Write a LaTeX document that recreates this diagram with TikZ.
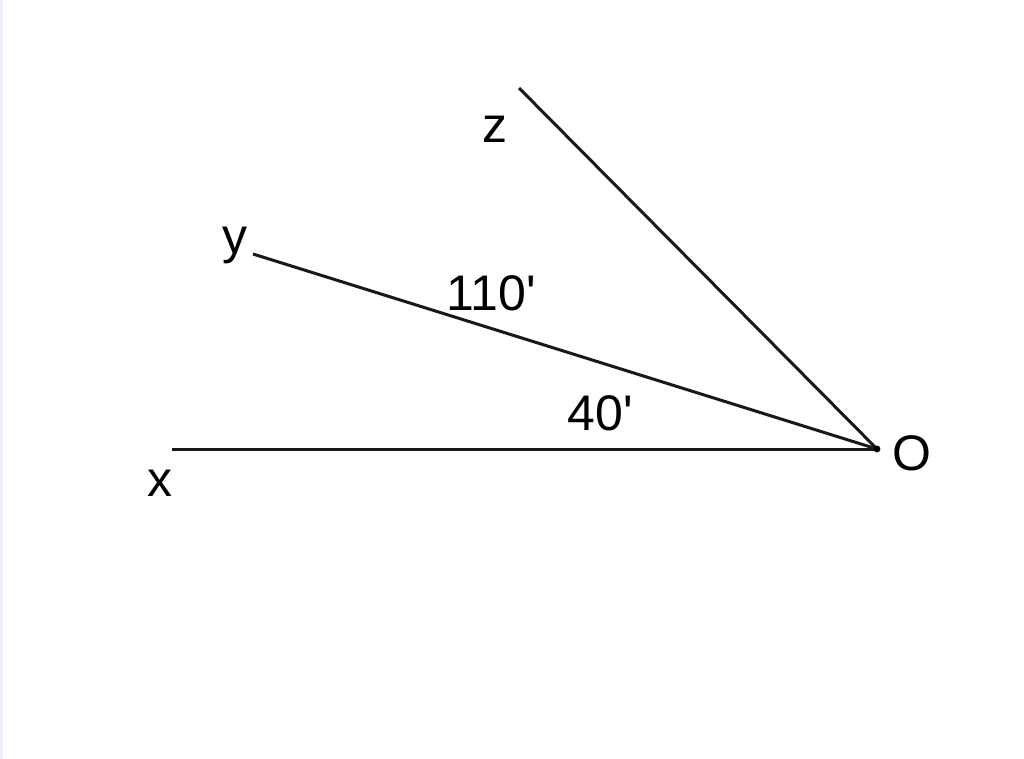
\documentclass[tikz,border=0pt]{standalone}
\usepackage{fontspec}
\setmainfont{Liberation Sans}[Ligatures=TeXOff]
\begin{document}
\begin{tikzpicture}[x=1pt,y=-1pt,
  ray/.style={line width=3pt,draw=black!90},
  lbl/.style={anchor=base,inner sep=0pt,font=\fontsize{50}{58}\selectfont}]
\useasboundingbox (0,0) rectangle (1024,759);
\fill[white] (0,0) rectangle (1024,759);
\fill[blue!6] (0,0) rectangle (3,759);
\coordinate (O) at (877,449);
\coordinate (X) at (172,449);
\coordinate (Y) at (253,254);
\coordinate (Z) at (519,88);
\draw[ray] (O) -- (X);
\draw[ray] (O) -- (Y);
\draw[ray] (O) -- (Z);
\fill (O) circle (3.4);
\node[lbl] (lx) at (160,496) {x};
\node[lbl] (ly) at (235,253) {y};
\node[lbl] (lz) at (495,143) {z};
\node[lbl] (lo) at (912,470) {O};
\node[lbl] (a1) at (491,310) {110'};
\node[lbl] (a2) at (600,430) {40'};
\end{tikzpicture}
\end{document}
